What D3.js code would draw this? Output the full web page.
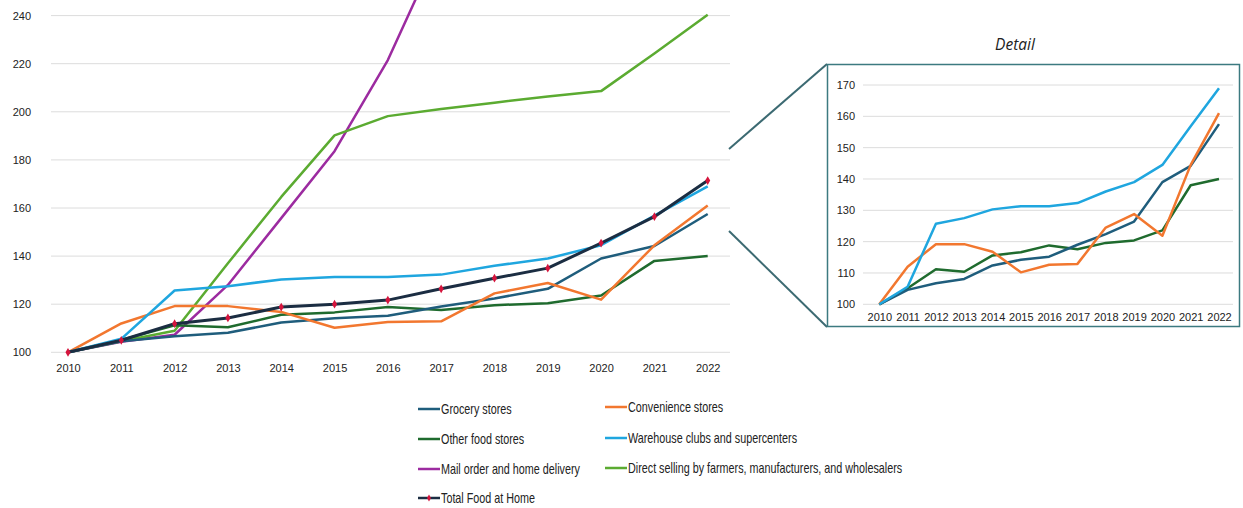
<!DOCTYPE html>
<html>
<head>
<meta charset="utf-8">
<script src="https://cdn.jsdelivr.net/npm/d3@7"></script>
<style>
html,body{margin:0;padding:0;background:#fff;}
svg{display:block;}
text{font-family:"Liberation Sans",Arial,sans-serif;fill:#222;}
</style>
</head>
<body>
<svg id="chart" width="1243" height="508"></svg>
<script>
const years = [2010,2011,2012,2013,2014,2015,2016,2017,2018,2019,2020,2021,2022];
const mainTicks = [100,120,140,160,180,200,220,240];
const detailTicks = [100,110,120,130,140,150,160,170];

const grocery     = [100,104.6,106.7,108.1,112.4,114.2,115.2,119.0,122.4,126.4,139.0,144.2,157.5];
const convenience = [100,112.0,119.2,119.2,116.8,110.2,112.6,112.9,124.5,128.8,121.9,144.5,161.0];
const otherFood   = [100,105.1,111.2,110.4,115.6,116.6,118.8,117.6,119.6,120.4,123.6,138.0,140.0];
const warehouse   = [100,105.6,125.7,127.5,130.3,131.3,131.3,132.3,136.0,139.0,144.5,156.8,169.0];
const mailOrder   = [100,104.4,107.3,128.0,155.8,183.6,221.5,270,300,330,400,450,480];
const directSell  = [100,104.6,109.0,137.0,164.6,190.2,198.2,201.2,203.8,206.4,208.6,224.2,240.4];
const totalFood   = [100,105.0,111.9,114.3,118.8,120.0,121.7,126.4,130.8,135.0,145.4,156.4,171.4];

const colors = {
  "Grocery stores":"#1f5d7c",
  "Convenience stores":"#f2772f",
  "Other food stores":"#1f6b2e",
  "Warehouse clubs and supercenters":"#1fa6df",
  "Mail order and home delivery":"#9c2ba0",
  "Direct selling by farmers, manufacturers, and wholesalers":"#5bab31",
  "Total Food at Home":"#1b2d42"
};
const seriesData = {
  "Grocery stores":grocery,
  "Convenience stores":convenience,
  "Other food stores":otherFood,
  "Warehouse clubs and supercenters":warehouse,
  "Mail order and home delivery":mailOrder,
  "Direct selling by farmers, manufacturers, and wholesalers":directSell,
  "Total Food at Home":totalFood
};
const detailSeries = ["Other food stores","Grocery stores","Convenience stores","Warehouse clubs and supercenters"];
const mainOrder = ["Mail order and home delivery","Direct selling by farmers, manufacturers, and wholesalers",
  "Other food stores","Grocery stores","Convenience stores","Warehouse clubs and supercenters","Total Food at Home"];

const svg = d3.select("#chart");
const tickFont = "'Liberation Sans',Arial,sans-serif";

// ---------- Main chart ----------
const mx = d3.scalePoint().domain(years).range([68, 707.7]);
const my = d3.scaleLinear().domain([100,240]).range([352.3, 15.6]);

svg.append("defs").append("clipPath").attr("id","mainClip")
  .append("rect").attr("x",40).attr("y",0).attr("width",700).attr("height",360);

const mg = svg.append("g");
mg.append("g").selectAll("line").data(mainTicks).join("line")
  .attr("x1",51).attr("x2",730)
  .attr("y1",d=>my(d)).attr("y2",d=>my(d))
  .attr("stroke","#dcdcdc").attr("stroke-width",1);
mg.append("g").attr("transform","translate(31,0)")
  .call(d3.axisLeft(my).tickValues(mainTicks).tickSize(0).tickPadding(0))
  .call(g=>g.select(".domain").remove())
  .selectAll("text").style("font-family",tickFont).style("font-size","11px").attr("fill","#333");
mg.append("g").attr("transform","translate(0,364)")
  .call(d3.axisBottom(mx).tickSize(0).tickPadding(0).tickFormat(d3.format("d")))
  .call(g=>g.select(".domain").remove())
  .selectAll("text").style("font-family",tickFont).style("font-size","11px").attr("fill","#333");

const mainLine = d3.line().x((d,i)=>mx(years[i])).y(d=>my(d));
const lines = mg.append("g").attr("clip-path","url(#mainClip)");
mainOrder.forEach(name=>{
  lines.append("path").datum(seriesData[name])
    .attr("d",mainLine).attr("fill","none")
    .attr("stroke",colors[name]).attr("stroke-width", name==="Total Food at Home"?3:2.5)
    .attr("stroke-linejoin","round");
});
lines.append("g").selectAll("path").data(totalFood).join("path")
  .attr("d",d3.symbol().type(d3.symbolDiamond).size(22))
  .attr("transform",(d,i)=>`translate(${mx(years[i])},${my(d)})`)
  .attr("fill","#d5143c");

// ---------- Connectors ----------
svg.append("line").attr("x1",729).attr("y1",149).attr("x2",827).attr("y2",64)
  .attr("stroke","#3c6a72").attr("stroke-width",2);
svg.append("line").attr("x1",729).attr("y1",231).attr("x2",827).attr("y2",327)
  .attr("stroke","#3c6a72").attr("stroke-width",2);

// ---------- Detail chart ----------
svg.append("rect").attr("x",827.5).attr("y",64.5).attr("width",412).attr("height",262)
  .attr("fill","#fff").attr("stroke","#3c7a80").attr("stroke-width",1.5);
svg.append("text").attr("x",1015).attr("y",50).attr("text-anchor","middle")
  .style("font-family","'Open Sans','Liberation Sans',sans-serif").style("font-style","italic")
  .style("font-size","15.5px").attr("fill","#333").text("Detail");

const dx = d3.scalePoint().domain(years).range([879.3, 1219]);
const dy = d3.scaleLinear().domain([100,170]).range([304.3, 85]);
const dg = svg.append("g");
dg.append("g").selectAll("line").data(detailTicks).join("line")
  .attr("x1",863).attr("x2",1233)
  .attr("y1",d=>dy(d)).attr("y2",d=>dy(d))
  .attr("stroke","#dcdcdc").attr("stroke-width",1);
dg.append("g").attr("transform","translate(855,0)")
  .call(d3.axisLeft(dy).tickValues(detailTicks).tickSize(0).tickPadding(0))
  .call(g=>g.select(".domain").remove())
  .selectAll("text").style("font-family",tickFont).style("font-size","11px").attr("fill","#333");
dg.append("g").attr("transform","translate(0,313)")
  .call(d3.axisBottom(dx).tickSize(0).tickPadding(0).tickFormat(d3.format("d")))
  .call(g=>g.select(".domain").remove())
  .selectAll("text").style("font-family",tickFont).style("font-size","11px").attr("fill","#333");
const detailLine = d3.line().x((d,i)=>dx(years[i])).y(d=>dy(d));
detailSeries.forEach(name=>{
  dg.append("path").datum(seriesData[name]).attr("d",detailLine).attr("fill","none")
    .attr("stroke",colors[name]).attr("stroke-width",2.5).attr("stroke-linejoin","round");
});

// ---------- Legend ----------
const legendItems = [
  {name:"Grocery stores", x:418, y:409},
  {name:"Other food stores", x:418, y:439},
  {name:"Mail order and home delivery", x:418, y:469},
  {name:"Total Food at Home", x:418, y:498},
  {name:"Convenience stores", x:605, y:407},
  {name:"Warehouse clubs and supercenters", x:605, y:438},
  {name:"Direct selling by farmers, manufacturers, and wholesalers", x:605, y:468}
];
const lg = svg.append("g").selectAll("g").data(legendItems).join("g")
  .attr("transform",d=>`translate(${d.x},${d.y})`);
lg.append("line").attr("x1",0).attr("x2",22).attr("y1",0).attr("y2",0)
  .attr("stroke",d=>colors[d.name]).attr("stroke-width",2.5);
lg.filter(d=>d.name==="Total Food at Home").append("path")
  .attr("d",d3.symbol().type(d3.symbolDiamond).size(14)).attr("transform","translate(11,0)").attr("fill","#d5143c");
lg.append("g").attr("transform","translate(23,0) scale(0.77,1)")
  .append("text").attr("x",0).attr("y",0).attr("dy","0.35em")
  .style("font-size","14px").attr("fill","#222").text(d=>d.name);
</script>
</body>
</html>
